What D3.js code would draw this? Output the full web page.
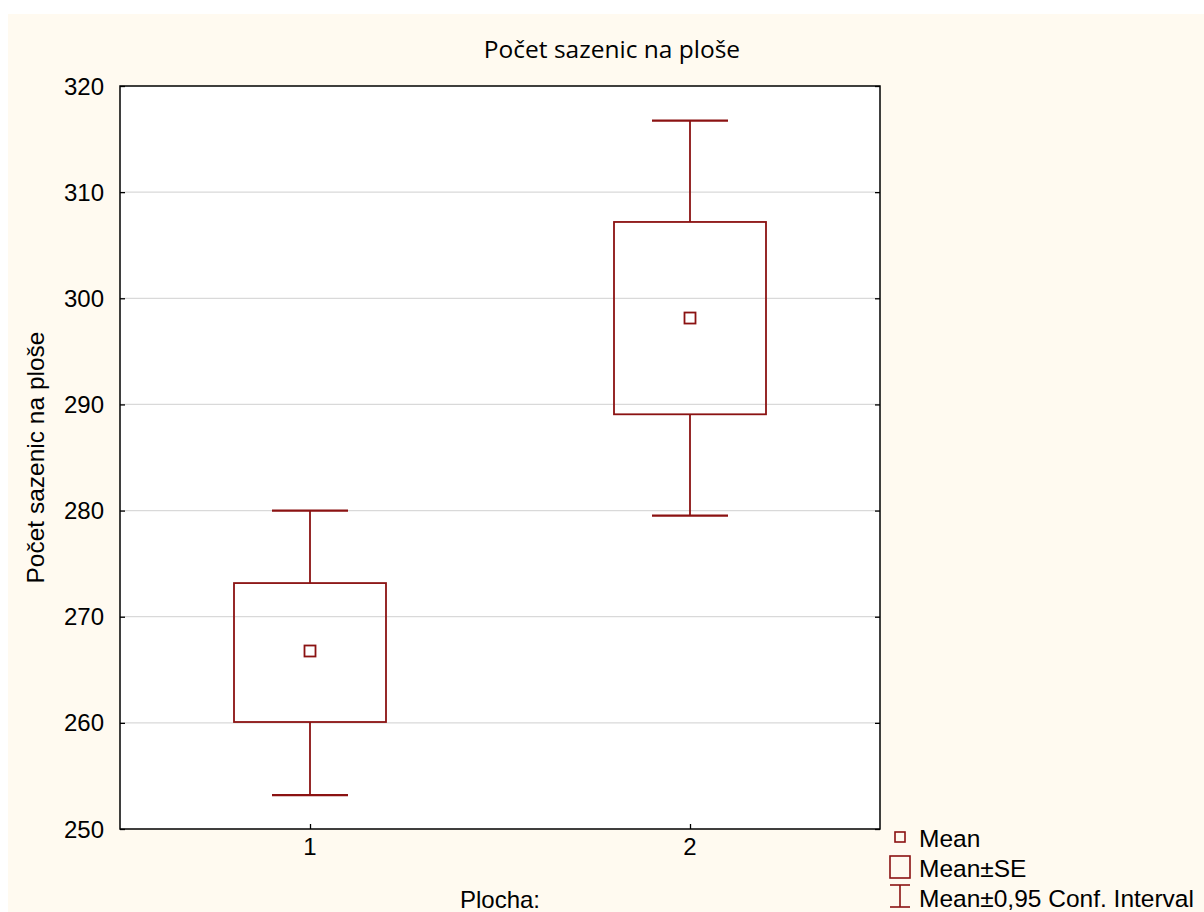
<!DOCTYPE html>
<html>
<head>
<meta charset="utf-8">
<script src="https://cdn.jsdelivr.net/npm/d3@7"></script>
<style>
  body { margin: 0; background: #fff; }
  svg { display: block; }
</style>
</head>
<body>
<div id="chart"></div>
<script>
// values
const groups = [1, 2];
const means = [266.77, 298.14];
const seLow = [260.08, 289.07];
const seHigh = [273.17, 307.19];
const ciLow = [253.2, 279.52];
const ciHigh = [280.0, 316.73];
const yTicks = [250, 260, 270, 280, 290, 300, 310, 320];
const legendItems = ['Mean', 'Mean\u00b1SE', 'Mean\u00b10,95 Conf. Interval'];

const W = 1204;
const H = 912;
const margin = { top: 86, right: 324, bottom: 83, left: 120 };
const innerW = W - margin.left - margin.right;
const innerH = H - margin.top - margin.bottom;
const red = '#8b1212';
const axisFont = '"Liberation Sans", Arial, sans-serif';

const svg = d3.select('#chart').append('svg')
  .attr('width', W)
  .attr('height', H);

// cream background leaving the thin white band at top/left
svg.append('rect')
  .attr('x', 8).attr('y', 14)
  .attr('width', W - 8).attr('height', H - 14)
  .attr('fill', '#fffaf0');

const g = svg.append('g')
  .attr('transform', `translate(${margin.left},${margin.top})`);

const x = d3.scaleLinear().domain([0.5, 2.5]).range([0, innerW]);
const y = d3.scaleLinear().domain([250, 320]).range([innerH, 0]);

g.append('rect')
  .attr('width', innerW).attr('height', innerH)
  .attr('fill', '#fff');

// gridlines
g.selectAll('.grid')
  .data(yTicks.slice(1, -1))
  .enter().append('line')
  .attr('class', 'grid')
  .attr('x1', 0).attr('x2', innerW)
  .attr('y1', (d) => y(d)).attr('y2', (d) => y(d))
  .attr('stroke', '#d9d9d9')
  .attr('stroke-width', 1.3);

// axes with inward ticks
const yAxisL = d3.axisRight(y).tickValues(yTicks).tickSize(5).tickFormat('');
const yAxisR = d3.axisLeft(y).tickValues(yTicks).tickSize(5).tickFormat('');
const xAxis = d3.axisTop(x).tickValues(groups).tickSize(5).tickFormat('');

g.append('g').call(yAxisL).call((s) => s.select('.domain').remove());
g.append('g').attr('transform', `translate(${innerW},0)`).call(yAxisR)
  .call((s) => s.select('.domain').remove());
g.append('g').attr('transform', `translate(0,${innerH})`).call(xAxis)
  .call((s) => s.select('.domain').remove());
g.selectAll('.tick line').attr('stroke', '#000').attr('stroke-width', 1.3);

// tick labels
g.selectAll('.ylab')
  .data(yTicks)
  .enter().append('text')
  .attr('x', -16)
  .attr('y', (d) => y(d))
  .attr('dy', '0.36em')
  .attr('text-anchor', 'end')
  .attr('font-family', axisFont)
  .attr('font-size', 24)
  .text((d) => d);

g.selectAll('.xlab')
  .data(groups)
  .enter().append('text')
  .attr('x', (d) => x(d))
  .attr('y', innerH + 26)
  .attr('text-anchor', 'middle')
  .attr('font-family', axisFont)
  .attr('font-size', 24)
  .text((d) => d);

// whiskers (CI), SE boxes and mean markers
const cap = 0.1;
const half = 0.2;
groups.forEach((grp, i) => {
  const gg = g.append('g').attr('stroke', red).attr('stroke-width', 1.8).attr('fill', 'none');
  gg.append('line')
    .attr('x1', x(grp)).attr('x2', x(grp))
    .attr('y1', y(ciHigh[i])).attr('y2', y(seHigh[i]));
  gg.append('line')
    .attr('x1', x(grp)).attr('x2', x(grp))
    .attr('y1', y(seLow[i])).attr('y2', y(ciLow[i]));
  gg.append('line')
    .attr('x1', x(grp - cap)).attr('x2', x(grp + cap))
    .attr('y1', y(ciHigh[i])).attr('y2', y(ciHigh[i]))
    .attr('stroke-width', 2.2);
  gg.append('line')
    .attr('x1', x(grp - cap)).attr('x2', x(grp + cap))
    .attr('y1', y(ciLow[i])).attr('y2', y(ciLow[i]))
    .attr('stroke-width', 2.2);
  gg.append('rect')
    .attr('x', x(grp - half))
    .attr('y', y(seHigh[i]))
    .attr('width', x(grp + half) - x(grp - half))
    .attr('height', y(seLow[i]) - y(seHigh[i]));
  gg.append('rect')
    .attr('x', x(grp) - 5.5)
    .attr('y', y(means[i]) - 5.5)
    .attr('width', 11).attr('height', 11);
});

// plot frame
g.append('rect')
  .attr('width', innerW).attr('height', innerH)
  .attr('fill', 'none')
  .attr('stroke', '#000')
  .attr('stroke-width', 1.5);

// title and axis labels
svg.append('text')
  .attr('x', 612).attr('y', 58)
  .attr('text-anchor', 'middle')
  .attr('font-family', '"Open Sans", Lato, sans-serif')
  .attr('font-size', 24.5)
  .text('Počet sazenic na ploše');

svg.append('text')
  .attr('x', margin.left + innerW / 2).attr('y', 908)
  .attr('text-anchor', 'middle')
  .attr('font-family', axisFont)
  .attr('font-size', 24)
  .text('Plocha:');

svg.append('text')
  .attr('transform', `translate(44,${margin.top + innerH / 2}) rotate(-90)`)
  .attr('text-anchor', 'middle')
  .attr('font-family', axisFont)
  .attr('font-size', 24.5)
  .text('Počet sazenic na ploše');

// legend
const leg = svg.append('g').attr('transform', 'translate(900,0)');
const rowY = [847, 877, 907];
leg.selectAll('.legtxt')
  .data(legendItems)
  .enter().append('text')
  .attr('x', 19)
  .attr('y', (d, i) => rowY[i])
  .attr('font-family', axisFont)
  .attr('font-size', 24.5)
  .text((d) => d);

leg.append('rect')
  .attr('x', -5).attr('y', 832).attr('width', 10).attr('height', 10)
  .attr('fill', 'none').attr('stroke', red).attr('stroke-width', 1.6);
leg.append('rect')
  .attr('x', -10).attr('y', 856).attr('width', 20).attr('height', 22)
  .attr('fill', 'none').attr('stroke', red).attr('stroke-width', 1.6);
const ci = leg.append('g').attr('stroke', red).attr('stroke-width', 1.6);
ci.append('line').attr('x1', -10).attr('x2', 10).attr('y1', 885).attr('y2', 885);
ci.append('line').attr('x1', -10).attr('x2', 10).attr('y1', 907).attr('y2', 907);
ci.append('line').attr('x1', 0).attr('x2', 0).attr('y1', 885).attr('y2', 907);
</script>
</body>
</html>
